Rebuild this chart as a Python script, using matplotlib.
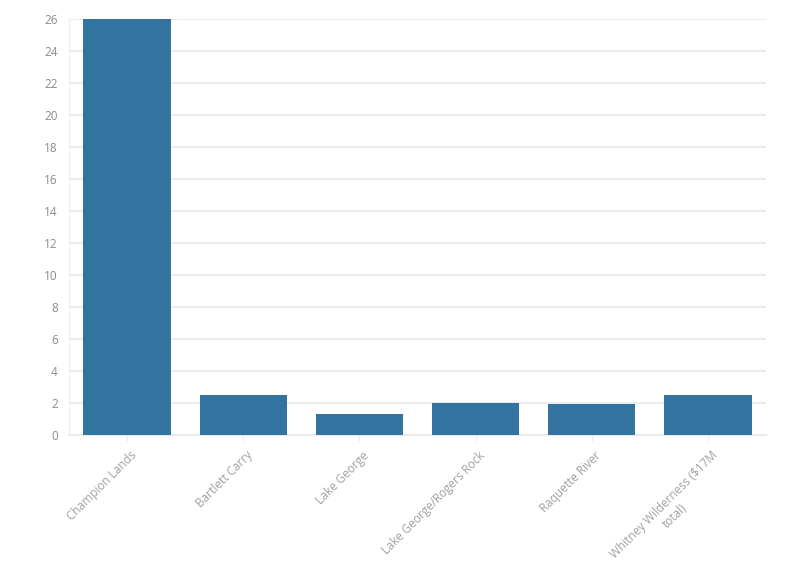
import matplotlib.pyplot as plt
import matplotlib.transforms as mtransforms

categories = ["Champion Lands", "Bartlett Carry", "Lake George",
              "Lake George/Rogers Rock", "Raquette River",
              "Whitney Wilderness ($17M\ntotal)"]
values = [26, 2.5, 1.3, 2.0, 1.95, 2.5]
yticks = list(range(0, 27, 2))

plt.rcParams["font.family"] = ["Open Sans", "DejaVu Sans"]

fig = plt.figure(figsize=(7.96, 5.75), dpi=100)
ax = fig.add_axes([0.0865, 0.2435, 0.876, 0.7235])

x = range(len(categories))
ax.bar(x, values, width=0.75, color="#33739f", zorder=3)

ax.set_xlim(-0.5, 5.5)
ax.set_ylim(0, 26)
ax.set_yticks(yticks)
ax.set_xticks(list(x))
ax.set_xticklabels(categories, rotation=45, ha="right", va="top",
                   rotation_mode="anchor", multialignment="center")

ax.grid(True, axis="y", color="#ebebeb", linewidth=1.5, zorder=0)
for s in ["top", "right"]:
    ax.spines[s].set_visible(False)
ax.spines["bottom"].set_color("#ebebeb")
ax.spines["bottom"].set_linewidth(1.5)
ax.spines["left"].set_color("#f2f2f2")
ax.spines["left"].set_linewidth(1)

ax.tick_params(axis="y", length=0, pad=8, labelsize=8.5, labelcolor="#8c8c8c")
ax.tick_params(axis="x", length=4, color="#ebebeb", pad=6, labelsize=8.5,
               labelcolor="#a0a0a0")

# nudge the rotated labels a little to the right
shift = mtransforms.ScaledTranslation(0.03, 0, fig.dpi_scale_trans)
for lbl in ax.get_xticklabels():
    lbl.set_transform(lbl.get_transform() + shift)

fig.savefig("out.png", dpi=100)
